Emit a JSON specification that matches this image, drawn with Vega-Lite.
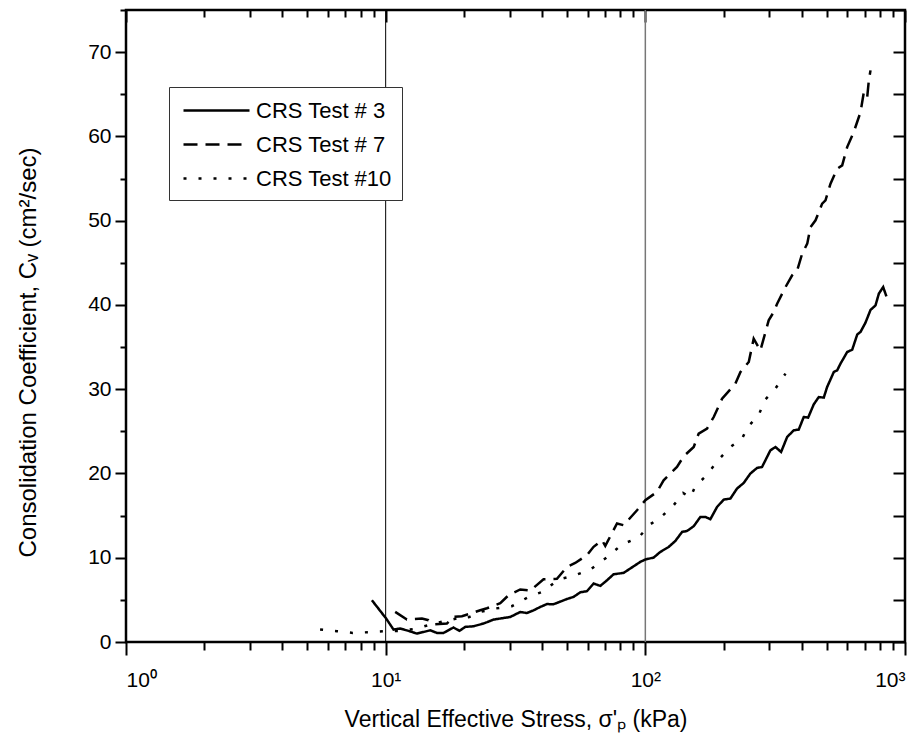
{
  "$schema": "https://vega.github.io/schema/vega-lite/v6.json",
  "width": 779,
  "height": 632,
  "autosize": {"type": "none"},
  "padding": {"left": 126, "top": 10, "right": 18, "bottom": 104},
  "background": "white",
  "config": {
    "view": {"stroke": "black", "strokeWidth": 2.5},
    "font": "Liberation Sans",
    "axis": {"grid": false, "domain": false, "tickColor": "black", "tickWidth": 2, "labelColor": "black", "titleColor": "black", "labelFont": "Liberation Sans", "titleFont": "Liberation Sans", "labelFontSize": 21, "titleFontSize": 23, "titleFontWeight": "normal"}
  },
  "datasets": {
    "curves": [
      {"test": "CRS Test # 3", "stress": 8.85, "cv": 4.96},
      {"test": "CRS Test # 3", "stress": 10.04, "cv": 2.79},
      {"test": "CRS Test # 3", "stress": 10.72, "cv": 1.48},
      {"test": "CRS Test # 3", "stress": 11.37, "cv": 1.6},
      {"test": "CRS Test # 3", "stress": 12.24, "cv": 1.32},
      {"test": "CRS Test # 3", "stress": 13.19, "cv": 1.0},
      {"test": "CRS Test # 3", "stress": 13.99, "cv": 1.19},
      {"test": "CRS Test # 3", "stress": 14.84, "cv": 1.39},
      {"test": "CRS Test # 3", "stress": 15.75, "cv": 1.08},
      {"test": "CRS Test # 3", "stress": 16.7, "cv": 1.08},
      {"test": "CRS Test # 3", "stress": 18.25, "cv": 1.72},
      {"test": "CRS Test # 3", "stress": 19.24, "cv": 1.32},
      {"test": "CRS Test # 3", "stress": 20.24, "cv": 1.79},
      {"test": "CRS Test # 3", "stress": 21.8, "cv": 1.87},
      {"test": "CRS Test # 3", "stress": 23.81, "cv": 2.19},
      {"test": "CRS Test # 3", "stress": 26.03, "cv": 2.66},
      {"test": "CRS Test # 3", "stress": 30.18, "cv": 2.97},
      {"test": "CRS Test # 3", "stress": 32.98, "cv": 3.56},
      {"test": "CRS Test # 3", "stress": 34.99, "cv": 3.44},
      {"test": "CRS Test # 3", "stress": 37.12, "cv": 3.76},
      {"test": "CRS Test # 3", "stress": 39.4, "cv": 4.16},
      {"test": "CRS Test # 3", "stress": 41.8, "cv": 4.5},
      {"test": "CRS Test # 3", "stress": 44.3, "cv": 4.48},
      {"test": "CRS Test # 3", "stress": 49.9, "cv": 5.1},
      {"test": "CRS Test # 3", "stress": 52.9, "cv": 5.35},
      {"test": "CRS Test # 3", "stress": 56.2, "cv": 5.9},
      {"test": "CRS Test # 3", "stress": 59.6, "cv": 6.03},
      {"test": "CRS Test # 3", "stress": 63.2, "cv": 6.94},
      {"test": "CRS Test # 3", "stress": 67.1, "cv": 6.66},
      {"test": "CRS Test # 3", "stress": 71.2, "cv": 7.33},
      {"test": "CRS Test # 3", "stress": 75.5, "cv": 8.04},
      {"test": "CRS Test # 3", "stress": 82.5, "cv": 8.2},
      {"test": "CRS Test # 3", "stress": 87.5, "cv": 8.72},
      {"test": "CRS Test # 3", "stress": 95.6, "cv": 9.5},
      {"test": "CRS Test # 3", "stress": 100, "cv": 9.79},
      {"test": "CRS Test # 3", "stress": 107.7, "cv": 10.02},
      {"test": "CRS Test # 3", "stress": 114.2, "cv": 10.69},
      {"test": "CRS Test # 3", "stress": 123.0, "cv": 11.28},
      {"test": "CRS Test # 3", "stress": 130.5, "cv": 11.99},
      {"test": "CRS Test # 3", "stress": 138.5, "cv": 13.06},
      {"test": "CRS Test # 3", "stress": 144.8, "cv": 13.18},
      {"test": "CRS Test # 3", "stress": 153.6, "cv": 13.74},
      {"test": "CRS Test # 3", "stress": 162.9, "cv": 14.84},
      {"test": "CRS Test # 3", "stress": 170.3, "cv": 14.84},
      {"test": "CRS Test # 3", "stress": 178.0, "cv": 14.57},
      {"test": "CRS Test # 3", "stress": 188.9, "cv": 16.03},
      {"test": "CRS Test # 3", "stress": 200.4, "cv": 16.9},
      {"test": "CRS Test # 3", "stress": 212.6, "cv": 17.02},
      {"test": "CRS Test # 3", "stress": 225.5, "cv": 18.21},
      {"test": "CRS Test # 3", "stress": 239.2, "cv": 18.87},
      {"test": "CRS Test # 3", "stress": 253.8, "cv": 19.99},
      {"test": "CRS Test # 3", "stress": 269.2, "cv": 20.65},
      {"test": "CRS Test # 3", "stress": 281.5, "cv": 20.77},
      {"test": "CRS Test # 3", "stress": 303.2, "cv": 22.75},
      {"test": "CRS Test # 3", "stress": 317.0, "cv": 23.14},
      {"test": "CRS Test # 3", "stress": 333.3, "cv": 22.55},
      {"test": "CRS Test # 3", "stress": 351.7, "cv": 24.33},
      {"test": "CRS Test # 3", "stress": 372.8, "cv": 25.12},
      {"test": "CRS Test # 3", "stress": 389.8, "cv": 25.21},
      {"test": "CRS Test # 3", "stress": 407.4, "cv": 26.7},
      {"test": "CRS Test # 3", "stress": 423.6, "cv": 26.63},
      {"test": "CRS Test # 3", "stress": 445.4, "cv": 28.21},
      {"test": "CRS Test # 3", "stress": 465.6, "cv": 29.07},
      {"test": "CRS Test # 3", "stress": 486.6, "cv": 29.0},
      {"test": "CRS Test # 3", "stress": 501.3, "cv": 30.26},
      {"test": "CRS Test # 3", "stress": 531.9, "cv": 32.04},
      {"test": "CRS Test # 3", "stress": 548.0, "cv": 32.24},
      {"test": "CRS Test # 3", "stress": 564.6, "cv": 33.04},
      {"test": "CRS Test # 3", "stress": 598.8, "cv": 34.41},
      {"test": "CRS Test # 3", "stress": 626.4, "cv": 34.7},
      {"test": "CRS Test # 3", "stress": 654.9, "cv": 36.5},
      {"test": "CRS Test # 3", "stress": 674.2, "cv": 36.8},
      {"test": "CRS Test # 3", "stress": 704.5, "cv": 37.9},
      {"test": "CRS Test # 3", "stress": 736.4, "cv": 39.4},
      {"test": "CRS Test # 3", "stress": 770.0, "cv": 39.95},
      {"test": "CRS Test # 3", "stress": 793.0, "cv": 41.34},
      {"test": "CRS Test # 3", "stress": 824.0, "cv": 42.12},
      {"test": "CRS Test # 3", "stress": 848.0, "cv": 41.02},

      {"test": "CRS Test # 7", "stress": 10.88, "cv": 3.57},
      {"test": "CRS Test # 7", "stress": 12.07, "cv": 2.67},
      {"test": "CRS Test # 7", "stress": 13.79, "cv": 2.79},
      {"test": "CRS Test # 7", "stress": 14.62, "cv": 2.59},
      {"test": "CRS Test # 7", "stress": 15.29, "cv": 2.11},
      {"test": "CRS Test # 7", "stress": 17.21, "cv": 2.19},
      {"test": "CRS Test # 7", "stress": 18.25, "cv": 2.98},
      {"test": "CRS Test # 7", "stress": 19.67, "cv": 3.06},
      {"test": "CRS Test # 7", "stress": 22.13, "cv": 3.57},
      {"test": "CRS Test # 7", "stress": 23.13, "cv": 3.77},
      {"test": "CRS Test # 7", "stress": 24.55, "cv": 4.0},
      {"test": "CRS Test # 7", "stress": 27.63, "cv": 4.6},
      {"test": "CRS Test # 7", "stress": 29.73, "cv": 5.55},
      {"test": "CRS Test # 7", "stress": 32.98, "cv": 6.23},
      {"test": "CRS Test # 7", "stress": 36.05, "cv": 6.1},
      {"test": "CRS Test # 7", "stress": 40.55, "cv": 7.45},
      {"test": "CRS Test # 7", "stress": 45.67, "cv": 7.5},
      {"test": "CRS Test # 7", "stress": 49.9, "cv": 8.9},
      {"test": "CRS Test # 7", "stress": 53.7, "cv": 9.38},
      {"test": "CRS Test # 7", "stress": 59.6, "cv": 10.3},
      {"test": "CRS Test # 7", "stress": 63.2, "cv": 11.3},
      {"test": "CRS Test # 7", "stress": 68.1, "cv": 12.08},
      {"test": "CRS Test # 7", "stress": 70.1, "cv": 11.4},
      {"test": "CRS Test # 7", "stress": 77.8, "cv": 14.06},
      {"test": "CRS Test # 7", "stress": 82.5, "cv": 13.86},
      {"test": "CRS Test # 7", "stress": 92.9, "cv": 15.63},
      {"test": "CRS Test # 7", "stress": 100, "cv": 16.82},
      {"test": "CRS Test # 7", "stress": 110.9, "cv": 17.81},
      {"test": "CRS Test # 7", "stress": 117.6, "cv": 19.19},
      {"test": "CRS Test # 7", "stress": 132.4, "cv": 20.77},
      {"test": "CRS Test # 7", "stress": 140.5, "cv": 22.04},
      {"test": "CRS Test # 7", "stress": 153.6, "cv": 23.14},
      {"test": "CRS Test # 7", "stress": 160.5, "cv": 24.73},
      {"test": "CRS Test # 7", "stress": 172.9, "cv": 25.33},
      {"test": "CRS Test # 7", "stress": 183.4, "cv": 26.7},
      {"test": "CRS Test # 7", "stress": 197.5, "cv": 28.88},
      {"test": "CRS Test # 7", "stress": 222.3, "cv": 30.66},
      {"test": "CRS Test # 7", "stress": 232.5, "cv": 32.04},
      {"test": "CRS Test # 7", "stress": 250.2, "cv": 33.23},
      {"test": "CRS Test # 7", "stress": 261.4, "cv": 36.0},
      {"test": "CRS Test # 7", "stress": 277.4, "cv": 34.6},
      {"test": "CRS Test # 7", "stress": 298.6, "cv": 38.17},
      {"test": "CRS Test # 7", "stress": 312.2, "cv": 39.16},
      {"test": "CRS Test # 7", "stress": 321.8, "cv": 40.15},
      {"test": "CRS Test # 7", "stress": 346.6, "cv": 42.12},
      {"test": "CRS Test # 7", "stress": 367.6, "cv": 43.51},
      {"test": "CRS Test # 7", "stress": 384.5, "cv": 44.1},
      {"test": "CRS Test # 7", "stress": 401.8, "cv": 46.09},
      {"test": "CRS Test # 7", "stress": 420.3, "cv": 47.27},
      {"test": "CRS Test # 7", "stress": 432.5, "cv": 49.24},
      {"test": "CRS Test # 7", "stress": 452.3, "cv": 50.04},
      {"test": "CRS Test # 7", "stress": 479.7, "cv": 52.02},
      {"test": "CRS Test # 7", "stress": 494.1, "cv": 52.42},
      {"test": "CRS Test # 7", "stress": 516.6, "cv": 54.39},
      {"test": "CRS Test # 7", "stress": 548.0, "cv": 56.17},
      {"test": "CRS Test # 7", "stress": 572.9, "cv": 56.56},
      {"test": "CRS Test # 7", "stress": 598.8, "cv": 58.73},
      {"test": "CRS Test # 7", "stress": 634.6, "cv": 60.51},
      {"test": "CRS Test # 7", "stress": 674.2, "cv": 62.88},
      {"test": "CRS Test # 7", "stress": 694.2, "cv": 65.26},
      {"test": "CRS Test # 7", "stress": 715.2, "cv": 64.66},
      {"test": "CRS Test # 7", "stress": 725.6, "cv": 66.64},
      {"test": "CRS Test # 7", "stress": 736.4, "cv": 67.83},

      {"test": "CRS Test #10", "stress": 5.59, "cv": 1.48},
      {"test": "CRS Test #10", "stress": 6.49, "cv": 1.28},
      {"test": "CRS Test #10", "stress": 7.47, "cv": 1.08},
      {"test": "CRS Test #10", "stress": 8.58, "cv": 1.16},
      {"test": "CRS Test #10", "stress": 9.95, "cv": 1.28},
      {"test": "CRS Test #10", "stress": 11.37, "cv": 1.3},
      {"test": "CRS Test #10", "stress": 13.19, "cv": 1.6},
      {"test": "CRS Test #10", "stress": 15.29, "cv": 2.19},
      {"test": "CRS Test #10", "stress": 18.8, "cv": 2.79},
      {"test": "CRS Test #10", "stress": 19.95, "cv": 2.67},
      {"test": "CRS Test #10", "stress": 23.13, "cv": 3.57},
      {"test": "CRS Test #10", "stress": 26.4, "cv": 3.97},
      {"test": "CRS Test #10", "stress": 30.6, "cv": 4.25},
      {"test": "CRS Test #10", "stress": 35.5, "cv": 5.35},
      {"test": "CRS Test #10", "stress": 40.0, "cv": 5.94},
      {"test": "CRS Test #10", "stress": 46.3, "cv": 7.41},
      {"test": "CRS Test #10", "stress": 52.9, "cv": 7.85},
      {"test": "CRS Test #10", "stress": 61.4, "cv": 8.6},
      {"test": "CRS Test #10", "stress": 71.2, "cv": 10.05},
      {"test": "CRS Test #10", "stress": 81.3, "cv": 11.58},
      {"test": "CRS Test #10", "stress": 94.2, "cv": 12.4},
      {"test": "CRS Test #10", "stress": 104.5, "cv": 13.97},
      {"test": "CRS Test #10", "stress": 115.9, "cv": 14.92},
      {"test": "CRS Test #10", "stress": 128.5, "cv": 16.22},
      {"test": "CRS Test #10", "stress": 139.7, "cv": 17.69},
      {"test": "CRS Test #10", "stress": 149.0, "cv": 17.14},
      {"test": "CRS Test #10", "stress": 155.9, "cv": 18.52},
      {"test": "CRS Test #10", "stress": 171.3, "cv": 19.7},
      {"test": "CRS Test #10", "stress": 190.5, "cv": 21.56},
      {"test": "CRS Test #10", "stress": 212.6, "cv": 23.14},
      {"test": "CRS Test #10", "stress": 235.9, "cv": 24.14},
      {"test": "CRS Test #10", "stress": 247.9, "cv": 25.52},
      {"test": "CRS Test #10", "stress": 273.3, "cv": 26.9},
      {"test": "CRS Test #10", "stress": 287.5, "cv": 28.68},
      {"test": "CRS Test #10", "stress": 315.0, "cv": 29.95},
      {"test": "CRS Test #10", "stress": 346.6, "cv": 31.85}
    ],
    "grid10": [{"stress": 10}],
    "grid100": [{"stress": 100}]
  },
  "resolve": {"axis": {"x": "independent", "y": "independent"}},
  "layer": [
    {
      "data": {"name": "curves"},
      "mark": {"type": "line", "opacity": 0},
      "encoding": {
        "x": {"field": "stress", "type": "quantitative", "scale": {"type": "log", "domain": [1, 1000], "nice": false},
          "axis": {"orient": "bottom", "values": [1, 10, 100, 1000], "tickSize": 13, "labelPadding": 14,
            "labelExpr": "datum.value == 1 ? '10⁰' : datum.value == 10 ? '10¹' : datum.value == 100 ? '10²' : '10³'",
            "title": "Vertical Effective Stress, σ'ₚ (kPa)", "titlePadding": 18}},
        "y": {"field": "cv", "type": "quantitative", "scale": {"domain": [0, 75], "nice": false, "zero": false},
          "axis": {"orient": "left", "values": [0, 10, 20, 30, 40, 50, 60, 70], "tickSize": 11, "labelPadding": 4,
            "title": "Consolidation Coefficient, Cᵥ (cm²/sec)", "titleFontSize": 24, "titleX": -86, "titleY": 342}},
        "detail": {"field": "test"}
      }
    },
    {
      "data": {"name": "curves"},
      "mark": {"type": "line", "opacity": 0},
      "encoding": {
        "x": {"field": "stress", "type": "quantitative",
          "axis": {"orient": "bottom", "values": [2, 3, 4, 5, 6, 7, 8, 9, 20, 30, 40, 50, 60, 70, 80, 90, 200, 300, 400, 500, 600, 700, 800, 900], "tickSize": 8, "labels": false, "title": null}},
        "y": {"field": "cv", "type": "quantitative",
          "axis": {"orient": "left", "values": [5, 15, 25, 35, 45, 55, 65, 75], "tickSize": 6, "labels": false, "title": null}},
        "detail": {"field": "test"}
      }
    },
    {
      "data": {"name": "curves"},
      "mark": {"type": "line", "opacity": 0},
      "encoding": {
        "x": {"field": "stress", "type": "quantitative",
          "axis": {"orient": "top", "values": [1, 10, 100, 1000], "tickSize": -12, "labels": false, "title": null}},
        "y": {"field": "cv", "type": "quantitative",
          "axis": {"orient": "right", "values": [0, 10, 20, 30, 40, 50, 60, 70], "tickSize": -12, "labels": false, "title": null}},
        "detail": {"field": "test"}
      }
    },
    {
      "data": {"name": "curves"},
      "mark": {"type": "line", "opacity": 0},
      "encoding": {
        "x": {"field": "stress", "type": "quantitative",
          "axis": {"orient": "top", "values": [2, 3, 4, 5, 6, 7, 8, 9, 20, 30, 40, 50, 60, 70, 80, 90, 200, 300, 400, 500, 600, 700, 800, 900], "tickSize": -7, "labels": false, "title": null}},
        "y": {"field": "cv", "type": "quantitative",
          "axis": {"orient": "right", "values": [5, 15, 25, 35, 45, 55, 65, 75], "tickSize": -12, "labels": false, "title": null}},
        "detail": {"field": "test"}
      }
    },
    {
      "data": {"name": "grid10"},
      "mark": {"type": "rule", "color": "black", "strokeWidth": 1},
      "encoding": {"x": {"field": "stress", "type": "quantitative", "axis": null}}
    },
    {
      "data": {"name": "grid100"},
      "mark": {"type": "rule", "color": "#777777", "strokeWidth": 1.5},
      "encoding": {"x": {"field": "stress", "type": "quantitative", "axis": null}}
    },
    {
      "data": {"name": "curves"},
      "mark": {"type": "line", "color": "black", "strokeWidth": 2.5},
      "encoding": {
        "x": {"field": "stress", "type": "quantitative", "axis": null},
        "y": {"field": "cv", "type": "quantitative", "axis": null},
        "strokeDash": {"field": "test", "type": "nominal",
          "scale": {"domain": ["CRS Test # 3", "CRS Test # 7", "CRS Test #10"], "range": [[1, 0], [14, 8], [3, 12]]},
          "legend": {"orient": "none", "legendX": 43, "legendY": 77, "title": null,
            "symbolType": "M-2.75,0H2.75", "symbolSize": 576, "symbolStrokeWidth": 2.5, "symbolStrokeColor": "black",
            "symbolOffset": 24, "labelOffset": 26,
            "labelFontSize": 22, "labelFont": "Liberation Sans", "labelColor": "black",
            "rowPadding": 9, "padding": 10, "strokeColor": "#333333", "fillColor": "white", "labelLimit": 300}}
      }
    }
  ]
}
